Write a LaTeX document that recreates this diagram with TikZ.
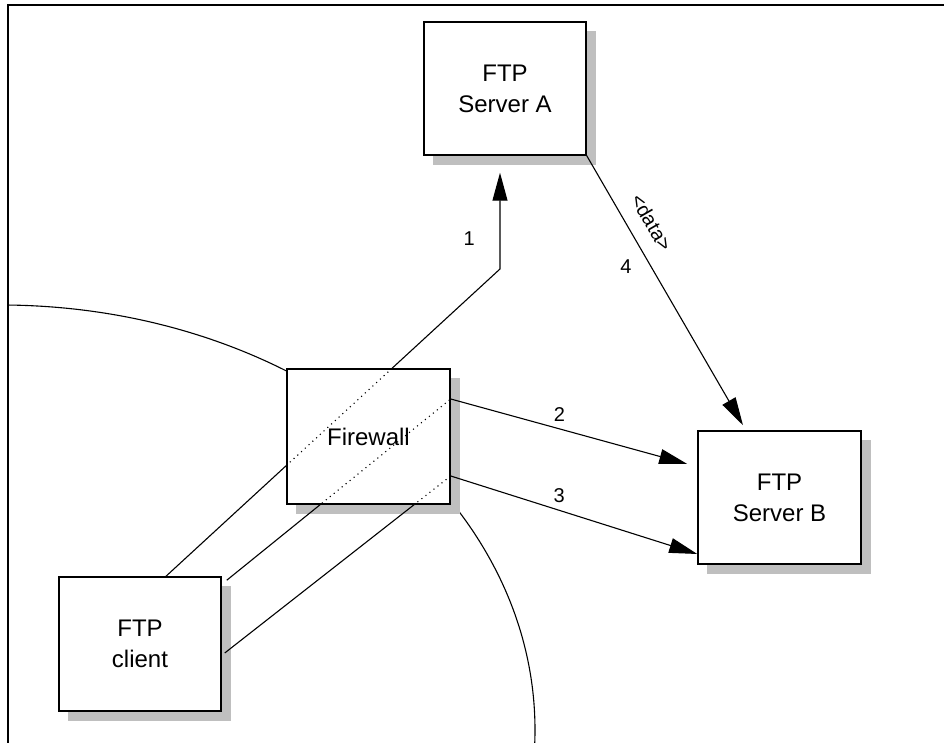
\documentclass[tikz,border=0pt]{standalone}
\usepackage{fontspec}
\setmainfont{Liberation Sans}
\usetikzlibrary{arrows.meta, calc, backgrounds}

\begin{document}
\begin{tikzpicture}[
    x=0.5pt, y=0.5pt,
    hostbox/.style={rectangle, draw=black, fill=white, line width=0.75pt, minimum width=81pt, minimum height=66.5pt, align=center, font=\fontsize{12}{15.5}\selectfont},
    boxshadow/.style={fill=black!25},
    link/.style={line width=0.55pt},
    arrow/.style={link, -{Triangle[length=14pt, width=7.5pt]}},
    num/.style={font=\fontsize{10}{12}\selectfont}
]
    \useasboundingbox (0,0) rectangle (944,743);

    % Frame
    \draw[line width=0.65pt] (8,0) -- (8,738) -- (944,738);

    % Hosts
    \node[hostbox] (srvA) at (505,654.5) {FTP\\Server A};
    \node[hostbox, minimum width=81.5pt, minimum height=67.5pt] (fw) at (368.5,306.5) {Firewall};
    \node[hostbox, minimum width=81.5pt] (srvB) at (779.5,245.5) {FTP\\Server B};
    \node[hostbox, minimum height=67pt] (client) at (140,99) {FTP\\client};

    % Connection end points
    \coordinate (c1) at ($(client.north)+(26,0)$);
    \coordinate (c2) at ($(client.north east)+(5,-4)$);
    \coordinate (c3) at ($(client.east)+(3,-9)$);
    \coordinate (bend) at (500,474);
    \coordinate (f2) at ($(fw.east)+(0,37.5)$);
    \coordinate (f3) at ($(fw.east)+(0,-39.5)$);
    \coordinate (tipA) at ($(srvA.south)+(-5,-17)$);
    \coordinate (tip2) at ($(srvB.west)+(-10,33.5)$);
    \coordinate (tip3) at ($(srvB.west)+(0,-56.5)$);
    \coordinate (tip4) at ($(srvB.north)+(-36.5,5)$);

    \begin{scope}[on background layer]
        % Network boundary
        \begin{scope}
            \clip (8,0) rectangle (944,738);
            \draw[link] (0,13) ellipse [x radius=267.5pt, y radius=212.5pt];
        \end{scope}

        % Shadows
        \foreach \n in {srvA, fw, srvB, client}
            \fill[boxshadow] ($(\n.south west)+(9.5,-9.5)$) rectangle ($(\n.north east)+(9.5,-9.5)$);

        % Sessions through the firewall
        \draw[arrow] (c1) -- (bend) -- node[num, left=9pt, pos=0.32] {1} (tipA);
        \draw[arrow] (c2) -- (f2) -- node[num, above, pos=0.46] {2} (tip2);
        \draw[arrow] (c3) -- (f3) -- node[num, above, pos=0.44] {3} (tip3);
    \end{scope}

    % Hidden part inside the firewall
    \begin{scope}
        \clip (fw.south west) rectangle (fw.north east);
        \draw[link, dotted] (c1) -- (bend);
        \draw[link, dotted] (c2) -- (f2);
        \draw[link, dotted] (c3) -- (f3);
    \end{scope}

    % Data connection
    \draw[arrow] (srvA.south east) -- node[num, above=4pt, sloped, pos=0.29] {<data>} node[num, left=6pt, pos=0.41] {4} (tip4);

\end{tikzpicture}
\end{document}
